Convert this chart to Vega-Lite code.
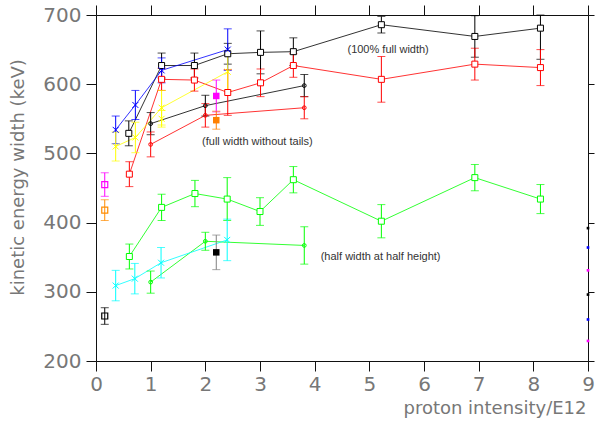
{
  "$schema": "https://vega.github.io/schema/vega-lite/v6.json",
  "width": 492,
  "height": 346,
  "autosize": {"type": "none"},
  "padding": {"left": 96, "top": 15, "right": 7, "bottom": 60},
  "background": "white",
  "config": {"view": {"stroke": null}, "font": "DejaVu Sans"},
  "datasets": {
    "curves": [
      {"series": "S100", "x": 0.6, "y": 529, "e": 18},
      {"series": "S100", "x": 1.2, "y": 627, "e": 18},
      {"series": "S100", "x": 1.8, "y": 627, "e": 18},
      {"series": "S100", "x": 2.41, "y": 644, "e": 15},
      {"series": "S100", "x": 3.01, "y": 646, "e": 31},
      {"series": "S100", "x": 3.61, "y": 647, "e": 20},
      {"series": "S100", "x": 5.22, "y": 686, "e": 12},
      {"series": "S100", "x": 6.93, "y": 669, "e": 30},
      {"series": "S100", "x": 8.13, "y": 681, "e": 45},
      {"series": "Sbk", "x": 1.0, "y": 543, "e": 16},
      {"series": "Sbk", "x": 2.0, "y": 569, "e": 15},
      {"series": "Sbk", "x": 3.81, "y": 598, "e": 16},
      {"series": "Sred", "x": 0.61, "y": 470, "e": 18},
      {"series": "Sred", "x": 1.2, "y": 607, "e": 16},
      {"series": "Sred", "x": 1.8, "y": 606, "e": 16},
      {"series": "Sred", "x": 2.41, "y": 588, "e": 33},
      {"series": "Sred", "x": 3.01, "y": 602, "e": 20},
      {"series": "Sred", "x": 3.61, "y": 627, "e": 17},
      {"series": "Sred", "x": 5.22, "y": 607, "e": 33},
      {"series": "Sred", "x": 6.93, "y": 629, "e": 23},
      {"series": "Sred", "x": 8.13, "y": 624, "e": 26},
      {"series": "Srd", "x": 1.0, "y": 513, "e": 18},
      {"series": "Srd", "x": 2.0, "y": 555, "e": 17},
      {"series": "Srd", "x": 3.81, "y": 566, "e": 16},
      {"series": "Sblue", "x": 0.36, "y": 534, "e": 20},
      {"series": "Sblue", "x": 0.72, "y": 570, "e": 21},
      {"series": "Sblue", "x": 1.2, "y": 620, "e": 18},
      {"series": "Sblue", "x": 2.41, "y": 650, "e": 30},
      {"series": "Syel", "x": 0.36, "y": 510, "e": 21},
      {"series": "Syel", "x": 0.72, "y": 523, "e": 22},
      {"series": "Syel", "x": 1.2, "y": 566, "e": 25},
      {"series": "Syel", "x": 2.41, "y": 618, "e": 27},
      {"series": "Sgsq", "x": 0.61, "y": 351, "e": 18},
      {"series": "Sgsq", "x": 1.2, "y": 422, "e": 19},
      {"series": "Sgsq", "x": 1.81, "y": 442, "e": 19},
      {"series": "Sgsq", "x": 2.4, "y": 434, "e": 31},
      {"series": "Sgsq", "x": 3.0, "y": 416, "e": 20},
      {"series": "Sgsq", "x": 3.61, "y": 462, "e": 19},
      {"series": "Sgsq", "x": 5.22, "y": 402, "e": 24},
      {"series": "Sgsq", "x": 6.93, "y": 465, "e": 19},
      {"series": "Sgsq", "x": 8.13, "y": 434, "e": 21},
      {"series": "Sgci", "x": 1.0, "y": 314, "e": 16},
      {"series": "Sgci", "x": 2.0, "y": 373, "e": 13},
      {"series": "Sgci", "x": 3.81, "y": 367, "e": 27},
      {"series": "Scyan", "x": 0.36, "y": 309, "e": 22},
      {"series": "Scyan", "x": 0.71, "y": 319, "e": 22},
      {"series": "Scyan", "x": 1.19, "y": 342, "e": 22},
      {"series": "Scyan", "x": 2.4, "y": 375, "e": 30}
    ],
    "singles": [
      {"series": "Iblk", "x": 0.16, "y": 265, "e": 12},
      {"series": "Imag", "x": 0.16, "y": 455, "e": 17},
      {"series": "Iorg", "x": 0.16, "y": 418, "e": 15},
      {"series": "Iyel", "x": 1.2, "y": 550, "e": 12}
    ],
    "filled": [
      {"series": "Fmag", "x": 2.2, "y": 583, "e": 23},
      {"series": "Forg", "x": 2.2, "y": 548, "e": 13},
      {"series": "Fblk", "x": 2.2, "y": 357, "e": 25}
    ],
    "edge": [
      {"series": "Eblk", "x": 9, "y": 392},
      {"series": "Eblu", "x": 9, "y": 364},
      {"series": "Emag", "x": 9, "y": 331},
      {"series": "Eblk", "x": 9, "y": 296},
      {"series": "Eblu", "x": 9, "y": 260},
      {"series": "Emag", "x": 9, "y": 229}
    ],
    "notes": [
      {"x": 4.6, "y": 650, "label": "(100% full width)"},
      {"x": 1.94, "y": 516, "label": "(full width without tails)"},
      {"x": 4.11, "y": 351, "label": "(half width at half height)"}
    ]
  },
  "resolve": {"axis": {"x": "independent", "y": "independent"}},
  "layer": [
    {
      "data": {"name": "curves"},
      "mark": {"type": "line", "strokeWidth": 1, "opacity": 0.8},
      "encoding": {
        "x": {"field": "x", "type": "quantitative", "scale": {"domain": [0, 9], "nice": false, "zero": false},
          "axis": {"orient": "bottom", "values": [0,1,2,3,4,5,6,7,8,9], "grid": false, "tickSize": 10, "tickColor": "#111", "domainColor": "#111",
            "labelFontSize": 20, "labelColor": "#777", "labelPadding": 3, "labelFlush": false,
            "title": "proton intensity/E12", "titleFontSize": 18, "titleFontWeight": "normal", "titleColor": "#777",
            "titleX": 490, "titleY": 47, "titleAlign": "right", "titleBaseline": "middle"}},
        "y": {"field": "y", "type": "quantitative", "scale": {"domain": [200, 700], "nice": false, "zero": false, "clamp": true},
          "axis": {"orient": "left", "values": [200,300,400,500,600,700], "grid": false, "tickSize": 10, "tickColor": "#111", "domainColor": "#111",
            "labelFontSize": 20, "labelColor": "#777", "labelPadding": 5,
            "title": "kinetic energy width (keV)", "titleFontSize": 18, "titleFontWeight": "normal", "titleColor": "#777",
            "titleX": -78, "titleY": 162, "titleAngle": 270, "titleAlign": "center", "titleBaseline": "middle"}},
        "color": {"field": "series", "type": "nominal", "legend": null,
          "scale": {"domain": ["S100","Sbk","Sred","Srd","Sblue","Syel","Sgsq","Sgci","Scyan","Iblk","Imag","Iorg","Iyel","Fmag","Forg","Fblk","Eblk","Eblu","Emag"],
            "range": ["#000000","#000000","#ff0000","#ff0000","#0000ff","#ffff00","#00ff00","#00ff00","#00ffff","#000000","#ff00ff","#ff8c00","#ffff00","#ff00ff","#ff8000","#808080","#000000","#0000ff","#ff00ff"]}}
      }
    },
    {
      "data": {"name": "curves"},
      "mark": {"type": "errorbar", "ticks": {"size": 8}},
      "encoding": {
        "x": {"field": "x", "type": "quantitative", "axis": null},
        "y": {"field": "y", "type": "quantitative", "axis": null},
        "yError": {"field": "e"},
        "color": {"field": "series", "type": "nominal", "legend": null}
      }
    },
    {
      "data": {"name": "singles"},
      "mark": {"type": "errorbar", "ticks": {"size": 8}},
      "encoding": {
        "x": {"field": "x", "type": "quantitative", "axis": null},
        "y": {"field": "y", "type": "quantitative", "axis": null},
        "yError": {"field": "e"},
        "color": {"field": "series", "type": "nominal", "legend": null}
      }
    },
    {
      "data": {"name": "filled"},
      "mark": {"type": "errorbar", "ticks": {"size": 8}},
      "encoding": {
        "x": {"field": "x", "type": "quantitative", "axis": null},
        "y": {"field": "y", "type": "quantitative", "axis": null},
        "yError": {"field": "e"},
        "color": {"field": "series", "type": "nominal", "legend": null}
      }
    },
    {
      "data": {"name": "curves"},
      "transform": [{"filter": {"field": "series", "oneOf": ["S100", "Sred", "Sgsq"]}}],
      "mark": {"type": "point", "shape": "square", "size": 36, "filled": false, "fill": "white", "fillOpacity": 1, "strokeWidth": 1, "opacity": 1},
      "encoding": {
        "x": {"field": "x", "type": "quantitative", "axis": null},
        "y": {"field": "y", "type": "quantitative", "axis": null},
        "color": {"field": "series", "type": "nominal", "legend": null}
      }
    },
    {
      "data": {"name": "singles"},
      "transform": [{"filter": {"field": "series", "oneOf": ["Iblk", "Imag", "Iorg"]}}],
      "mark": {"type": "point", "shape": "square", "size": 36, "filled": false, "strokeWidth": 1.2, "opacity": 1},
      "encoding": {
        "x": {"field": "x", "type": "quantitative", "axis": null},
        "y": {"field": "y", "type": "quantitative", "axis": null},
        "color": {"field": "series", "type": "nominal", "legend": null}
      }
    },
    {
      "data": {"name": "curves"},
      "transform": [{"filter": {"field": "series", "oneOf": ["Sbk", "Srd", "Sgci"]}}],
      "mark": {"type": "point", "shape": "circle", "size": 14, "filled": false, "strokeWidth": 1, "opacity": 1},
      "encoding": {
        "x": {"field": "x", "type": "quantitative", "axis": null},
        "y": {"field": "y", "type": "quantitative", "axis": null},
        "color": {"field": "series", "type": "nominal", "legend": null}
      }
    },
    {
      "data": {"name": "curves"},
      "transform": [{"filter": {"field": "series", "oneOf": ["Sblue", "Syel", "Scyan"]}}],
      "mark": {"type": "point", "shape": "M-1,-1L1,1M1,-1L-1,1", "size": 36, "filled": false, "strokeWidth": 1, "opacity": 1},
      "encoding": {
        "x": {"field": "x", "type": "quantitative", "axis": null},
        "y": {"field": "y", "type": "quantitative", "axis": null},
        "color": {"field": "series", "type": "nominal", "legend": null}
      }
    },
    {
      "data": {"name": "singles"},
      "transform": [{"filter": {"field": "series", "oneOf": ["Iyel"]}}],
      "mark": {"type": "point", "shape": "M-1,-1L1,1M1,-1L-1,1", "size": 36, "filled": false, "strokeWidth": 1, "opacity": 1},
      "encoding": {
        "x": {"field": "x", "type": "quantitative", "axis": null},
        "y": {"field": "y", "type": "quantitative", "axis": null},
        "color": {"field": "series", "type": "nominal", "legend": null}
      }
    },
    {
      "data": {"name": "filled"},
      "transform": [{"filter": {"field": "series", "oneOf": ["Fmag", "Forg"]}}],
      "mark": {"type": "point", "shape": "square", "size": 42, "filled": true, "opacity": 1},
      "encoding": {
        "x": {"field": "x", "type": "quantitative", "axis": null},
        "y": {"field": "y", "type": "quantitative", "axis": null},
        "color": {"field": "series", "type": "nominal", "legend": null}
      }
    },
    {
      "data": {"name": "filled"},
      "transform": [{"filter": {"field": "series", "oneOf": ["Fblk"]}}],
      "mark": {"type": "point", "shape": "square", "size": 42, "filled": true, "opacity": 1, "color": "#000000"},
      "encoding": {
        "x": {"field": "x", "type": "quantitative", "axis": null},
        "y": {"field": "y", "type": "quantitative", "axis": null}
      }
    },
    {
      "data": {"name": "edge"},
      "mark": {"type": "point", "shape": "square", "size": 7, "filled": true, "opacity": 1},
      "encoding": {
        "x": {"field": "x", "type": "quantitative", "axis": null},
        "y": {"field": "y", "type": "quantitative", "axis": null},
        "color": {"field": "series", "type": "nominal", "legend": null}
      }
    },
    {
      "data": {"name": "notes"},
      "mark": {"type": "text", "align": "left", "baseline": "middle", "font": "Liberation Sans", "fontSize": 11, "color": "#333333"},
      "encoding": {
        "x": {"field": "x", "type": "quantitative",
          "axis": {"orient": "top", "values": [0,1,2,3,4,5,6,7,8,9], "labels": false, "title": null, "grid": false, "tickSize": 10, "tickColor": "#111", "domainColor": "#111"}},
        "y": {"field": "y", "type": "quantitative",
          "axis": {"orient": "right", "values": [200,300,400,500,600,700], "labels": false, "title": null, "grid": false, "tickSize": 6, "tickColor": "#111", "domainColor": "#111"}},
        "text": {"field": "label"}
      }
    }
  ]
}
